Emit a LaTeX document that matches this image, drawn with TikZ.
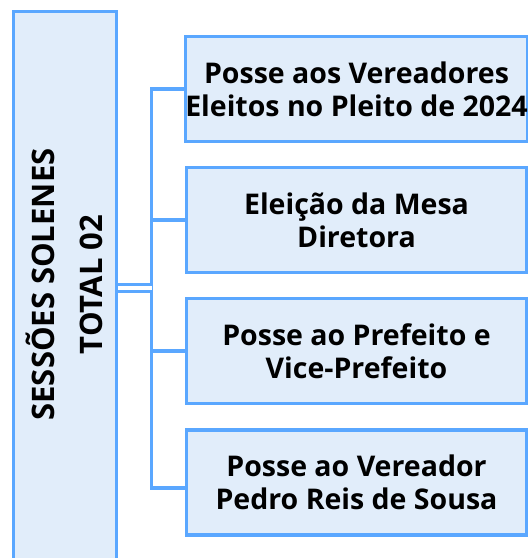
\documentclass[tikz,border=0pt]{standalone}
\usepackage{fontspec}
\setmainfont{Open Sans}
\usetikzlibrary{positioning}
\definecolor{lineblue}{HTML}{5AA7FF}
\definecolor{paleblue}{HTML}{E1EDFA}

\begin{document}
\begin{tikzpicture}[x=1pt,y=1pt,
  sessionbox/.style={draw=lineblue, fill=paleblue, line width=3.3pt,
    minimum width=340pt, minimum height=105pt, inner sep=0pt,
    align=center, font=\fontsize{28.5}{33}\selectfont\bfseries},
  link/.style={draw=lineblue, line width=3.3pt}]

\useasboundingbox (0,0) rectangle (528,-558);

% big box on the left
\node[draw=lineblue, fill=paleblue, line width=3.3pt, rotate=90,
  minimum width=558pt, minimum height=103.4pt] (total) at (65,-290.5) {};
\node[rotate=90, align=center, font=\fontsize{31}{48}\selectfont\bfseries]
  (totaltext) at (64,-284.5) {SESSÕES SOLENES\\TOTAL 02};

% boxes for the sessions
\foreach \y/\name/\descr in
{89/pleito/{Posse aos Vereadores\\Eleitos no Pleito de 2024},
 220/mesa/{Eleição da Mesa\\Diretora},
 351/prefeito/{Posse ao Prefeito e\\Vice-Prefeito},
 482.5/pedro/{Posse ao Vereador\\Pedro Reis de Sousa}}
\node[sessionbox] (\name) at (356.5,-\y) {\descr};

% bus line
\coordinate (bustop) at (151.7,-89);
\coordinate (busbot) at (151.7,-488);
\coordinate (split) at (151.7,-288);
\draw[link] (pleito.west) -- (bustop) -- (busbot) -- (busbot -| pedro.west);
\foreach \name in {mesa,prefeito}
\draw[link] (\name.west) -- (\name.west -| bustop);

% double line to the left box
\draw[draw=lineblue, line width=3pt, double=white, double distance=4.4pt]
  (split -| total.south) -- (split);

\end{tikzpicture}
\end{document}
